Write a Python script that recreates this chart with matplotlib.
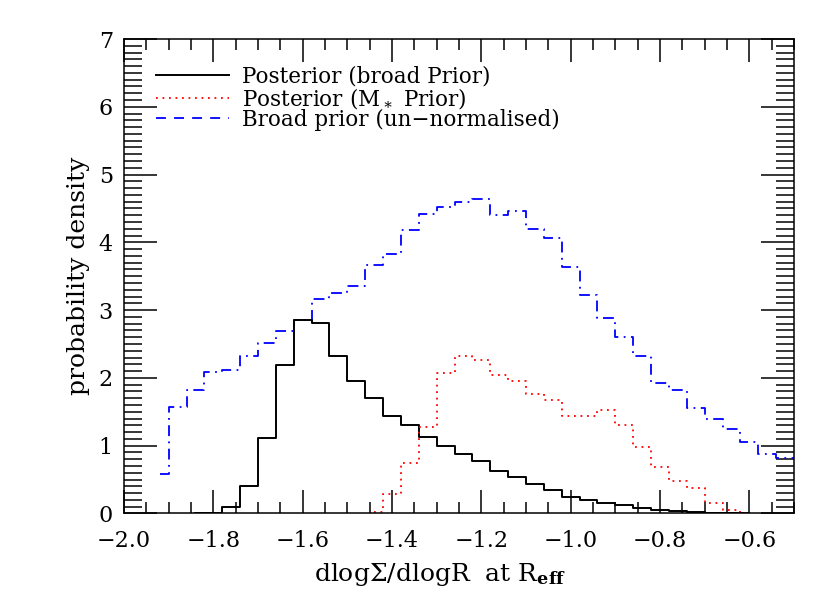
import numpy as np
import matplotlib.pyplot as plt
from matplotlib.lines import Line2D
from matplotlib.ticker import MultipleLocator

plt.rcParams['font.family'] = ['DejaVu Serif']
plt.rcParams['mathtext.fontset'] = 'dejavuserif'

# Bin centres of the histograms (bin width 0.04)
centres = [-1.92, -1.88, -1.84, -1.80, -1.76, -1.72, -1.68, -1.64, -1.60,
           -1.56, -1.52, -1.48, -1.44, -1.40, -1.36, -1.32, -1.28, -1.24,
           -1.20, -1.16, -1.12, -1.08, -1.04, -1.00, -0.96, -0.92, -0.88,
           -0.84, -0.80, -0.76, -0.72, -0.68, -0.64, -0.60, -0.56, -0.52,
           -0.48]

# Broad prior (un-normalised), first bin at -1.92
broad_prior = [0.58, 1.57, 1.82, 2.09, 2.11, 2.33, 2.51, 2.69, 2.86, 3.17,
               3.26, 3.36, 3.66, 3.83, 4.18, 4.42, 4.52, 4.60, 4.64, 4.40,
               4.46, 4.20, 4.07, 3.64, 3.22, 2.89, 2.61, 2.32, 1.93, 1.82,
               1.56, 1.40, 1.24, 1.06, 0.88, 0.82, 0.80]

# Posterior with broad prior, first bin at -1.84
post_broad = [0.0, 0.01, 0.09, 0.41, 1.12, 2.19, 2.85, 2.81, 2.33, 1.96,
              1.70, 1.44, 1.31, 1.13, 0.99, 0.88, 0.77, 0.62, 0.54, 0.44,
              0.34, 0.25, 0.20, 0.15, 0.12, 0.08, 0.05, 0.04, 0.02, 0.01,
              0.005, 0.0]

# Posterior with M* prior, first bin at -1.44
post_mstar = [0.02, 0.29, 0.74, 1.27, 2.07, 2.33, 2.27, 2.04, 1.96, 1.77,
              1.68, 1.44, 1.44, 1.53, 1.31, 0.98, 0.69, 0.48, 0.38, 0.16,
              0.05, 0.01]

i_broad = centres.index(-1.84)
i_mstar = centres.index(-1.44)

fig = plt.figure(figsize=(8.30, 5.93), dpi=100)
ax = fig.add_axes([0.1494, 0.1341, 0.8072, 0.8001])

ax.step(centres, broad_prior, where='mid', color='blue', lw=1.3,
        linestyle=(0, (6, 3, 1, 3)))
ax.step(centres[i_broad:i_broad + len(post_broad)], post_broad, where='mid',
        color='black', lw=1.4)
ax.step(centres[i_mstar:i_mstar + len(post_mstar)], post_mstar, where='mid',
        color='red', lw=1.3, linestyle=(0, (1, 2.6)))

ax.set_xlim(-2.0, -0.5)
ax.set_ylim(0, 7)
ax.xaxis.set_major_locator(MultipleLocator(0.2))
ax.xaxis.set_minor_locator(MultipleLocator(0.05))
ax.yaxis.set_major_locator(MultipleLocator(1))
ax.yaxis.set_minor_locator(MultipleLocator(0.1))
ax.xaxis.set_major_formatter(plt.FuncFormatter(lambda v, p: '\u2212%.1f' % abs(v) if v < 0 else '%.1f' % v))

ax.tick_params(which='both', direction='in', top=True, right=True,
               width=1.1, labelsize=16, colors='black')
ax.tick_params(axis='x', which='major', length=16.5, pad=12)
ax.tick_params(axis='x', which='minor', length=8)
ax.tick_params(axis='y', which='major', length=24, pad=8)
ax.tick_params(axis='y', which='minor', length=13)
for s in ax.spines.values():
    s.set_linewidth(1.1)

ax.set_xlabel('dlog\u03a3/dlogR  at R$_{\\mathbf{eff}}$', fontsize=18)
ax.xaxis.set_label_coords(0.472, -0.1)
ax.set_ylabel('probability density', fontsize=18, labelpad=6)

handles = [Line2D([], [], color='black', lw=1.4),
           Line2D([], [], color='red', lw=1.3, linestyle=(0, (1, 2.6))),
           Line2D([], [], color='blue', lw=1.3, linestyle=(0, (5.5, 4.5)))]
labels = ['Posterior (broad Prior)', 'Posterior (M$_\\ast$ Prior)',
          'Broad prior (un\u2212normalised)']
ax.legend(handles, labels, loc='upper left', bbox_to_anchor=(0.025, 0.975),
          frameon=False, fontsize=15.5, handlelength=3.4, handletextpad=0.6,
          labelspacing=-0.1, borderpad=0.2)

fig.savefig('out.png', dpi=100)
